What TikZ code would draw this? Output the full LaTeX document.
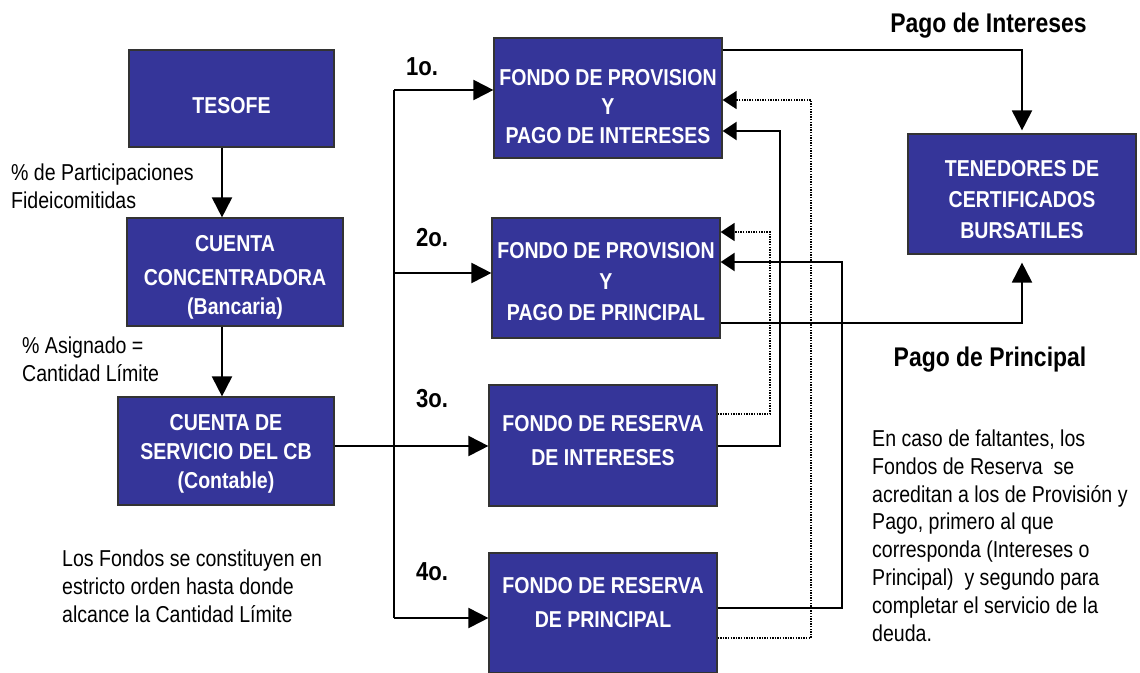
\documentclass[tikz,border=0pt]{standalone}
\usepackage{fontspec}
\setmainfont{Liberation Sans}
\newfontfamily\narrowsans{Liberation Sans}[FakeStretch=0.85]
\usetikzlibrary{arrows.meta}
\definecolor{fondoblue}{RGB}{53,53,153}
% struts to move box text down (\capdrop) or up (\baselift)
\newcommand{\capdrop}[1]{\rule{0pt}{\dimexpr16.5pt+#1*2\relax}}
\newcommand{\baselift}[1]{\rule[-\dimexpr#1*2\relax]{0pt}{0pt}}

\begin{document}
\begin{tikzpicture}[
        x=1pt, y=-1pt,
        box/.style={rectangle, draw=black!80, line width=1.2pt, fill=fondoblue, text=white,
            align=center, inner sep=0pt,
            font=\narrowsans\bfseries\fontsize{23}{29}\selectfont},
        note/.style={anchor=west, align=left, inner sep=0pt,
            font=\narrowsans\fontsize{23}{27.8}\selectfont},
        head/.style={inner sep=0pt, font=\narrowsans\bfseries\fontsize{27}{30}\selectfont},
        order/.style={inner sep=0pt, font=\narrowsans\bfseries\fontsize{26}{30}\selectfont},
        link/.style={line width=2pt},
        flow/.style={line width=2pt, -{Triangle[length=20pt,width=20pt]}},
        back/.style={line width=2pt, -{Triangle[length=14pt,width=18pt]}},
        dotback/.style={line width=1.7pt, dash pattern=on 1.4pt off 1.2pt,
            -{Triangle[length=14pt,width=18pt]}}
    ]
    \useasboundingbox (0,0) rectangle (1140,672);

    % --- Left column: accounts ---
    \node[box, minimum width=205pt, minimum height=97pt] (tesofe) at (231.5,98.5)
        {\capdrop{7pt}TESOFE};
    \node[box, minimum width=216pt, minimum height=108pt] (concentradora) at (235,272)
        {\capdrop{5pt}CUENTA\\[5pt]CONCENTRADORA\\(Bancaria)};
    \node[box, minimum width=216pt, minimum height=108pt] (servicio) at (226,451)
        {\capdrop{3pt}CUENTA DE\\SERVICIO DEL CB\\(Contable)};

    \draw[flow] (tesofe.south -| 222,0) -- (concentradora.north -| 222,0);
    \draw[flow] (concentradora.south -| 222,0) -- (servicio.north -| 222,0);

    \node[note] (participaciones) at (11,186.5) {\% de Participaciones\\Fideicomitidas};
    \node[note] (asignado) at (22,359.5) {\% Asignado =\\Cantidad Límite};
    \node[note] (constituyen) at (62,586)
        {Los Fondos se constituyen en\\estricto orden hasta donde\\alcance la Cantidad Límite};

    % --- Middle column: funds ---
    \node[box, minimum width=228pt, minimum height=120pt] (provint) at (608,98)
        {\capdrop{8pt}FONDO DE PROVISION\\Y\\PAGO DE INTERESES};
    \node[box, minimum width=228pt, minimum height=120pt] (provpri) at (606,278)
        {\capdrop{3pt}FONDO DE PROVISION\\[2pt]Y\\[2pt]PAGO DE PRINCIPAL};
    \node[box, minimum width=228pt, minimum height=121pt] (resint) at (603,445.5)
        {FONDO DE RESERVA\\[5pt]DE INTERESES\baselift{5pt}};
    \node[box, minimum width=228pt, minimum height=120pt] (respri) at (603,613)
        {FONDO DE RESERVA\\[5pt]DE PRINCIPAL\baselift{11pt}};

    \node[order] (first) at (422,67) {1o.};
    \node[order] (second) at (432,238) {2o.};
    \node[order] (third) at (432,399) {3o.};
    \node[order] (fourth) at (432,572) {4o.};

    % Distribution trunk
    \coordinate (trunk1) at (394,90);
    \coordinate (trunk2) at (394,273);
    \coordinate (trunk4) at (394,618);
    \draw[link] (trunk1) -- (trunk4);
    \draw[flow] (trunk1) -- (trunk1 -| provint.west);
    \draw[flow] (trunk2) -- (trunk2 -| provpri.west);
    \draw[flow] (trunk4) -- (trunk4 -| respri.west);
    \draw[flow] (servicio.east |- 0,446) -- (resint.west |- 0,446);

    % Reserve funds back to provision funds
    \draw[dotback] (respri.east |- 0,638) -| (811,100) -- (provint.east |- 0,100);
    \draw[dotback] (resint.east |- 0,414) -| (770,232) -- (provpri.east |- 0,232);
    \draw[back] (resint.east |- 0,446) -| (780,131) -- (provint.east |- 0,131);
    \draw[back] (respri.east |- 0,608) -| (842,262) -- (provpri.east |- 0,262);

    % --- Right column: holders ---
    \node[box, minimum width=228pt, minimum height=120pt] (tenedores) at (1022,194)
        {\capdrop{5pt}TENEDORES DE\\[2pt]CERTIFICADOS\\[2pt]BURSATILES};

    \draw[flow, shorten >=3pt] (provint.east |- 0,50) -| (tenedores.north);
    \draw[flow, shorten >=8pt] (provpri.east |- 0,323) -| (tenedores.south);

    \node[head] (pagoint) at (988.5,26) {Pago de Intereses};
    \node[head] (pagopri) at (990,360) {Pago de Principal};

    \node[note] (faltantes) at (872,535.5)
        {En caso de faltantes, los\\Fondos de Reserva~ se\\acreditan a los de Provisión y\\
         Pago, primero al que\\corresponda (Intereses o\\Principal)~ y segundo para\\
         completar el servicio de la\\deuda.};

\end{tikzpicture}
\end{document}
